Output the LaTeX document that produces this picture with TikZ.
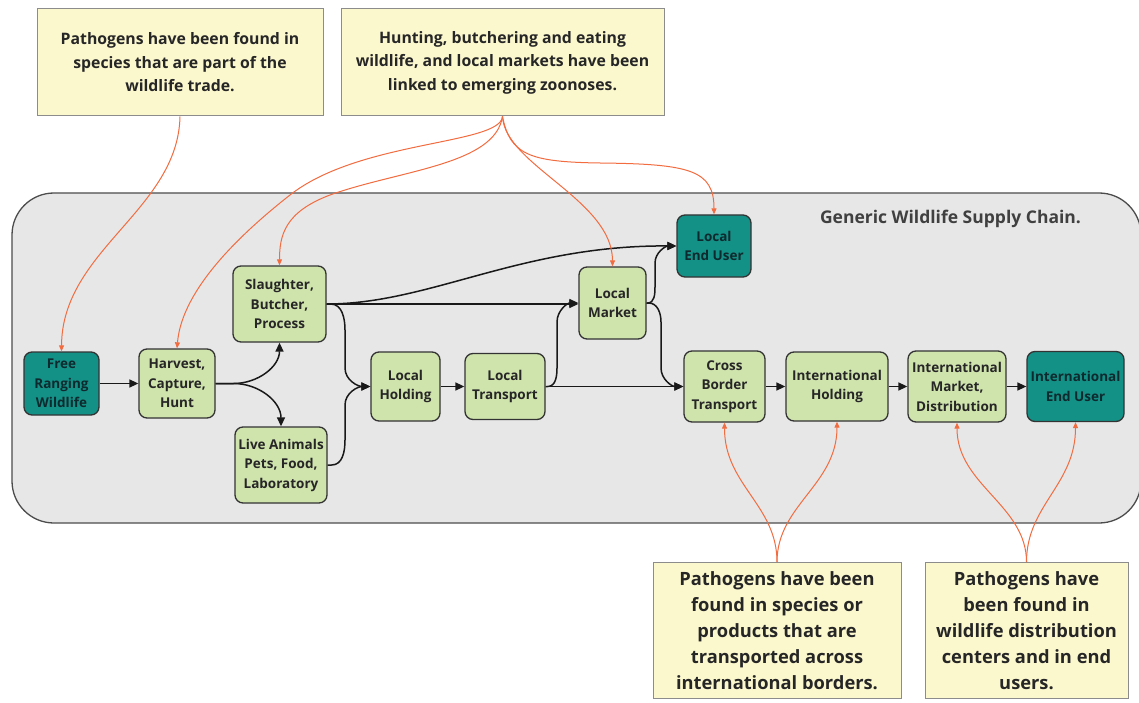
\documentclass[tikz,border=0pt]{standalone}
\usepackage{fontspec}
\setmainfont{Open Sans}
\usetikzlibrary{arrows.meta}
\definecolor{bggray}{HTML}{E7E7E7}
\definecolor{nodegreen}{HTML}{CFE3AD}
\definecolor{tealfill}{HTML}{149187}
\definecolor{tealtxt}{HTML}{0E2A2E}
\definecolor{notefill}{HTML}{FCF8CE}
\definecolor{orng}{HTML}{F26C40}
\definecolor{txt}{HTML}{262626}
\tikzset{
  grn/.style={draw=black!80, line width=1.3pt, rounded corners=8pt, fill=nodegreen,
    align=center, inner sep=0pt, text=txt,
    font=\bfseries\fontsize{13.5}{19.5}\selectfont},
  tl/.style={grn, fill=tealfill, text=tealtxt},
  flow/.style={line width=1.5pt, draw=black!90, -{Triangle[length=9pt,width=8pt]}},
  ann/.style={draw=orng, line width=1pt, -{Triangle[length=6pt,width=5pt]}},
  note/.style={draw=black!45, line width=1pt, fill=notefill, align=center, inner xsep=0pt,
    text=txt},
}
\begin{document}
\begin{tikzpicture}[x=1pt,y=-1pt]
\path[use as bounding box, clip] (0,0) rectangle (1139,703);
\fill[white] (0,0) rectangle (1139,703);
% big gray container
\draw[line width=1.3pt, draw=black!70, fill=bggray, rounded corners=42pt] (12,193) rectangle (1141,523);
\node[font=\bfseries\fontsize{17.5}{20}\selectfont, text=black!75] (title) at (950.5,219) {Generic Wildlife Supply Chain.};

% notes
\node[note, minimum width=286pt, minimum height=107pt, font=\bfseries\fontsize{15.8}{23.5}\selectfont] (b1) at (180,62.5)
  {Pathogens have been found in\\species that are part of the\\wildlife trade.};
\node[note, minimum width=323pt, minimum height=107pt, font=\bfseries\fontsize{15.8}{23.5}\selectfont] (b2) at (502.5,62.5)
  {Hunting, butchering and eating\\wildlife, and local markets have been\\linked to emerging zoonoses.};
\node[note, anchor=north, minimum width=248pt, inner ysep=9pt, font=\bfseries\fontsize{18.3}{26}\selectfont] (b3) at (777,562)
  {Pathogens have been\\found in species or\\products that are\\transported across\\international borders.};
\node[note, anchor=north, minimum width=203pt, inner ysep=9pt, font=\bfseries\fontsize{18.3}{26}\selectfont] (b4) at (1026.5,562)
  {Pathogens have\\been found in\\wildlife distribution\\centers and in end\\users.};

% chain nodes
\node[tl,  minimum width=75pt,  minimum height=63pt] (free)   at (61.5,383.5) {Free\\Ranging\\Wildlife};
\node[grn, minimum width=76pt,  minimum height=69pt] (harv)   at (177,383.5)  {Harvest,\\Capture,\\Hunt};
\node[grn, minimum width=93pt,  minimum height=76pt] (slau)   at (279.5,304)  {Slaughter,\\Butcher,\\Process};
\node[grn, minimum width=92pt,  minimum height=76pt] (live)   at (281,465)    {Live Animals\\Pets, Food,\\Laboratory};
\node[grn, minimum width=69pt,  minimum height=69pt] (lhold)  at (405.5,386.5) {Local\\Holding};
\node[grn, minimum width=80pt,  minimum height=66pt] (ltrans) at (505,386.5)  {Local\\Transport};
\node[grn, minimum width=67pt,  minimum height=72pt] (lmkt)   at (612.5,303)  {Local\\Market};
\node[tl,  minimum width=74pt,  minimum height=62pt] (lend)   at (714,246)    {Local\\End User};
\node[grn, minimum width=81pt,  minimum height=71pt] (cross)  at (724.5,386.5) {Cross\\Border\\Transport};
\node[grn, minimum width=102pt, minimum height=69pt] (ihold)  at (837,386.5)  {International\\Holding};
\node[grn, minimum width=98pt,  minimum height=71pt] (imkt)   at (957,386.5)  {International\\Market,\\Distribution};
\node[tl,  minimum width=97pt,  minimum height=70pt] (iend)   at (1075.5,386.5) {International\\End User};

% black flows
\draw[flow] (free) -- (harv);
\draw[flow] (harv.east) -- ++(18,0) to[out=0,in=-90] (slau.south);
\draw[flow] (harv.east) -- ++(18,0) to[out=0,in=90] (live.north);
\draw[flow] (slau.east) -- ++(4,0) to[out=0,in=90] (345,330) -- (345,368) to[out=-90,in=180] (lhold.west);
\draw[flow] (live.east) -- ++(4,0) to[out=0,in=-90] (345,440) -- (345,405) to[out=90,in=180] (lhold.west);
\draw[flow] (slau.east) -- (slau.east -| lmkt.west);
\draw[flow] (slau.east) .. controls (430,304) and (520,245) .. (lend.west);
\draw[flow] (lhold) -- (ltrans);
\draw[flow] (ltrans.east) -- (ltrans.east -| cross.west);
\draw[flow] (ltrans.east) -- ++(2,0) to[out=0,in=-90] (557,368) -- (557,322) to[out=90,in=180] (lmkt.west);
\draw[flow] (lmkt.east) -- ++(1,0) to[out=0,in=-90] (655,287) -- (655,263) to[out=90,in=180] (lend.west);
\draw[flow] (lmkt.east) -- ++(2,0) to[out=0,in=90] (661,322) -- (661,368) to[out=-90,in=180] (cross.west);
\draw[flow] (cross) -- (ihold);
\draw[flow] (ihold) -- (imkt);
\draw[flow] (imkt) -- (iend);

% orange annotations
\draw[ann] (b1.south) .. controls (178,210) and (62,250) .. (free.north);
\draw[ann] (b2.south) .. controls (500,145) and (360,140) .. (290,195) .. controls (220,250) and (181,300) .. (harv.north);
\draw[ann] (b2.south) .. controls (495,165) and (400,170) .. (330,195) .. controls (285,212) and (279.5,235) .. (slau.north);
\draw[ann] (b2.south) .. controls (505,165) and (612.5,200) .. (lmkt.north);
\draw[ann] (b2.south) .. controls (510,155) and (530,162) .. (600,163) .. controls (690,164) and (714,170) .. (lend.north);
\draw[ann] (b3.north) .. controls (777,505) and (724.5,485) .. (cross.south);
\draw[ann] (b3.north) .. controls (777,505) and (837,485) .. (ihold.south);
\draw[ann] (b4.north) .. controls (1026.5,505) and (957,485) .. (imkt.south);
\draw[ann] (b4.north) .. controls (1026.5,505) and (1075.5,485) .. (iend.south);
\end{tikzpicture}
\end{document}
